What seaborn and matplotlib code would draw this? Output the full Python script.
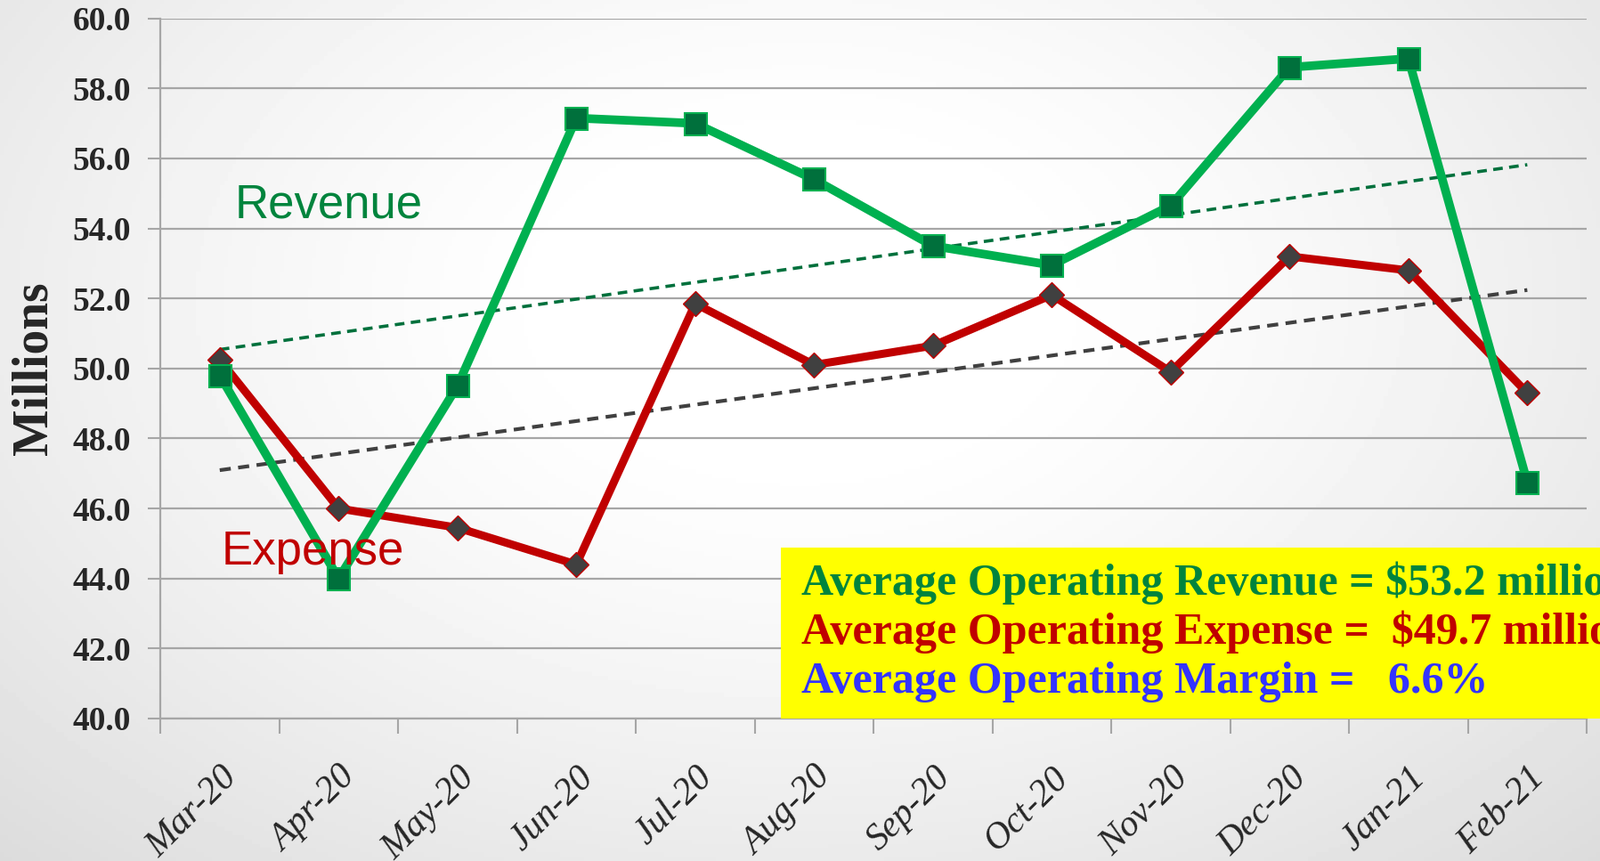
import numpy as np
import pandas as pd
import seaborn as sns
import matplotlib.pyplot as plt
from matplotlib.patches import Rectangle

# Monthly operating revenue / expense (millions)
months = ['Mar-20', 'Apr-20', 'May-20', 'Jun-20', 'Jul-20', 'Aug-20',
          'Sep-20', 'Oct-20', 'Nov-20', 'Dec-20', 'Jan-21', 'Feb-21']
revenue = [49.8, 44.0, 49.5, 57.15, 57.0, 55.4, 53.5, 52.95, 54.65, 58.6, 58.85, 46.75]
expense = [50.25, 46.0, 45.45, 44.4, 51.85, 50.1, 50.65, 52.1, 49.9, 53.2, 52.8, 49.3]

summary_lines = ['Average Operating Revenue = $53.2 million',
                 'Average Operating Expense =  $49.7 million',
                 'Average Operating Margin =   6.6%']
summary_colors = ['#00843D', '#C00000', '#3333FF']

df = pd.DataFrame({'idx': range(len(months)), 'month': months,
                   'Revenue': revenue, 'Expense': expense})

sns.set_theme(style='white')
plt.rcParams['font.family'] = ['Liberation Serif', 'DejaVu Serif']

fig = plt.figure(figsize=(17.97, 9.67), dpi=100)

# soft grey gradient background
bg = fig.add_axes([0, 0, 1, 1], zorder=-10)
yy, xx = np.mgrid[0:1:200j, 0:1:400j]
dist = np.sqrt(((xx - 0.5) * 1.1) ** 2 + ((yy - 0.35) * 0.9) ** 2)
bg.imshow(1 - 0.24 * np.clip(dist - 0.15, 0, None) ** 1.3, cmap='gray',
          vmin=0, vmax=1, aspect='auto', extent=[0, 1, 0, 1], origin='upper')
bg.axis('off')

ax = fig.add_axes([0.1002, 0.1655, 0.8915, 0.8132])
ax.patch.set_alpha(0)

# trend lines
sns.regplot(data=df, x='idx', y='Revenue', ax=ax, scatter=False, ci=None,
            color='#00703C', line_kws={'ls': (0, (3, 2)), 'lw': 2.6, 'zorder': 2})
sns.regplot(data=df, x='idx', y='Expense', ax=ax, scatter=False, ci=None,
            color='#404040', line_kws={'ls': (0, (3, 2)), 'lw': 3.0, 'zorder': 2})

sns.lineplot(data=df, x='idx', y='Expense', ax=ax, color='#C00000', lw=6.5,
             marker='D', markersize=14, markerfacecolor='#404040',
             markeredgecolor='#C00000', markeredgewidth=1, zorder=3)
sns.lineplot(data=df, x='idx', y='Revenue', ax=ax, color='#00B050', lw=7,
             marker='s', markersize=18, markerfacecolor='#00703C',
             markeredgecolor='#00B050', markeredgewidth=1.5, zorder=4)

ax.set_xlim(-0.5, len(months) - 0.5)
ax.set_ylim(40, 60)
ax.set_yticks(np.arange(40, 60.1, 2))
ax.set_yticklabels([f'{v:.1f}' for v in np.arange(40, 60.1, 2)],
                   fontsize=27, fontweight='bold')
ax.yaxis.grid(True, color='#A6A6A6', lw=1.6)
ax.set_axisbelow(True)

ax.set_xticks(range(len(months)))
ax.set_xticklabels(months, rotation=45, ha='right', rotation_mode='anchor',
                   fontsize=30, fontstyle='italic')
ax.set_xticks(np.arange(-0.5, len(months)), minor=True)
ax.tick_params(axis='x', which='major', length=0, pad=34)
ax.tick_params(axis='x', which='minor', length=12, width=1.5, color='#A6A6A6',
               direction='out', bottom=True)
ax.tick_params(axis='y', length=10, width=1.5, color='#A6A6A6', left=True, pad=14)

for s in ['top', 'right']:
    ax.spines[s].set_visible(False)
for s in ['left', 'bottom']:
    ax.spines[s].set_color('#A6A6A6')
    ax.spines[s].set_linewidth(1.6)

ax.set_xlabel('')
ax.set_ylabel('Millions', fontsize=40, fontweight='bold', labelpad=12)

ax.text(0.92, 54.65, 'Revenue', color='#00843D', fontsize=38,
        family=['Liberation Sans', 'DejaVu Sans'], ha='center', va='center', zorder=5)
ax.text(0.78, 44.75, 'Expense', color='#C00000', fontsize=38,
        family=['Liberation Sans', 'DejaVu Sans'], ha='center', va='center', zorder=5)

# yellow summary box
ax.add_patch(Rectangle((4.72, 40.0), 10, 4.87, facecolor='#FFFF00',
                       edgecolor='none', clip_on=False, zorder=6))
for i, (line, col) in enumerate(zip(summary_lines, summary_colors)):
    ax.text(4.89, 43.88 - i * 1.42, line, color=col, fontsize=36,
            fontweight='bold', ha='left', va='center', clip_on=False, zorder=7)

fig.savefig('out.png', dpi=100)
